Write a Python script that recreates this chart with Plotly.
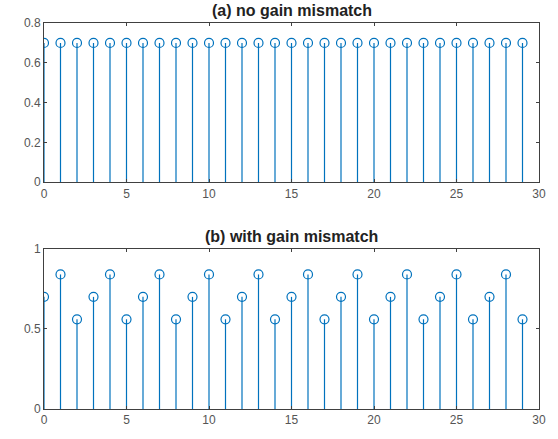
import plotly.graph_objects as go
from plotly.subplots import make_subplots

n = list(range(30))
no_mismatch = [0.7] * 30
pattern = [0.7, 0.84, 0.56]
with_mismatch = [pattern[i % 3] for i in n]

titles = ["(a) no gain mismatch", "(b) with gain mismatch"]
x_ticks = [0, 5, 10, 15, 20, 25, 30]
y_ticks_a = [0, 0.2, 0.4, 0.6, 0.8]
y_ticks_b = [0, 0.5, 1]

color = "#0072BD"

fig = make_subplots(rows=2, cols=1)

def add_stem(xs, ys, row):
    sx, sy = [], []
    for x, y in zip(xs, ys):
        sx += [x, x, None]
        sy += [0, y, None]
    fig.add_trace(go.Scatter(x=sx, y=sy, mode="lines",
                             line=dict(color=color, width=1.2),
                             hoverinfo="skip", showlegend=False), row=row, col=1)
    fig.add_trace(go.Scatter(x=xs, y=ys, mode="markers",
                             marker=dict(symbol="circle-open", size=9,
                                         color=color, line=dict(width=1.2, color=color)),
                             showlegend=False), row=row, col=1)

add_stem(n, no_mismatch, 1)
add_stem(n, with_mismatch, 2)

axis_common = dict(showline=True, mirror="ticks", linecolor="#404040", linewidth=1,
                   ticks="inside", ticklen=3, tickcolor="#404040", showgrid=False,
                   zeroline=False, tickfont=dict(family="Liberation Sans, Arial", size=12, color="#555555"))

fig.update_xaxes(range=[0, 30], tickvals=x_ticks, **axis_common)
fig.update_yaxes(**axis_common)
fig.update_yaxes(range=[0, 0.8], tickvals=y_ticks_a, ticktext=["0", "0.2", "0.4", "0.6", "0.8"], row=1, col=1)
fig.update_yaxes(range=[0, 1], tickvals=y_ticks_b, ticktext=["0", "0.5", "1"], row=2, col=1)

fig.update_layout(
    width=558, height=439,
    margin=dict(l=44, r=17, t=23, b=28),
    paper_bgcolor="white", plot_bgcolor="white",
    xaxis=dict(domain=[0, 1]), xaxis2=dict(domain=[0, 1]),
    yaxis=dict(domain=[0.5876, 1]), yaxis2=dict(domain=[0, 0.415]),
)

fig.add_annotation(text="<b>" + titles[0] + "</b>", xref="paper", yref="paper",
                   x=0.5, y=1, yanchor="bottom", yshift=2, showarrow=False,
                   font=dict(family="Liberation Sans, Arial", size=16, color="#222222"))
fig.add_annotation(text="<b>" + titles[1] + "</b>", xref="paper", yref="paper",
                   x=0.5, y=0.415, yanchor="bottom", yshift=2, showarrow=False,
                   font=dict(family="Liberation Sans, Arial", size=16, color="#222222"))

fig.write_html("out.html", config={"displayModeBar": False},
               post_script="document.body.style.margin='0';")
